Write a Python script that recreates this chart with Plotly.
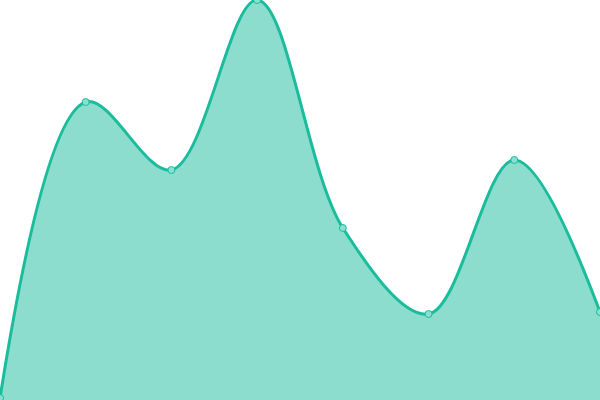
import plotly.graph_objects as go

# data points (evenly spaced)
x_vals = [0, 1, 2, 3, 4, 5, 6, 7]
y_vals = [2, 298, 230, 400, 172, 86, 240, 88]

line_color = "#1abc9c"

trace = go.Scatter(
    x=x_vals,
    y=y_vals,
    mode="lines+markers",
    line=dict(color=line_color, width=3, shape="spline", smoothing=1),
    marker=dict(size=7, color="#8ae0d0", line=dict(color=line_color, width=1)),
    fill="tozeroy",
    fillcolor="rgba(26,188,156,0.5)",
    hoverinfo="skip",
    cliponaxis=False,
)

fig = go.Figure(data=[trace])
fig.update_layout(
    width=600,
    height=400,
    margin=dict(l=0, r=0, t=0, b=0),
    paper_bgcolor="white",
    plot_bgcolor="white",
    showlegend=False,
    xaxis=dict(visible=False, range=[0, 7]),
    yaxis=dict(visible=False, range=[0, 400]),
)
# body has an 8px default margin, drop it so the chart fills the window
fig.write_html(
    "out.html",
    config={"displayModeBar": False},
    post_script="document.body.style.margin='0';document.body.style.overflow='hidden';",
)
